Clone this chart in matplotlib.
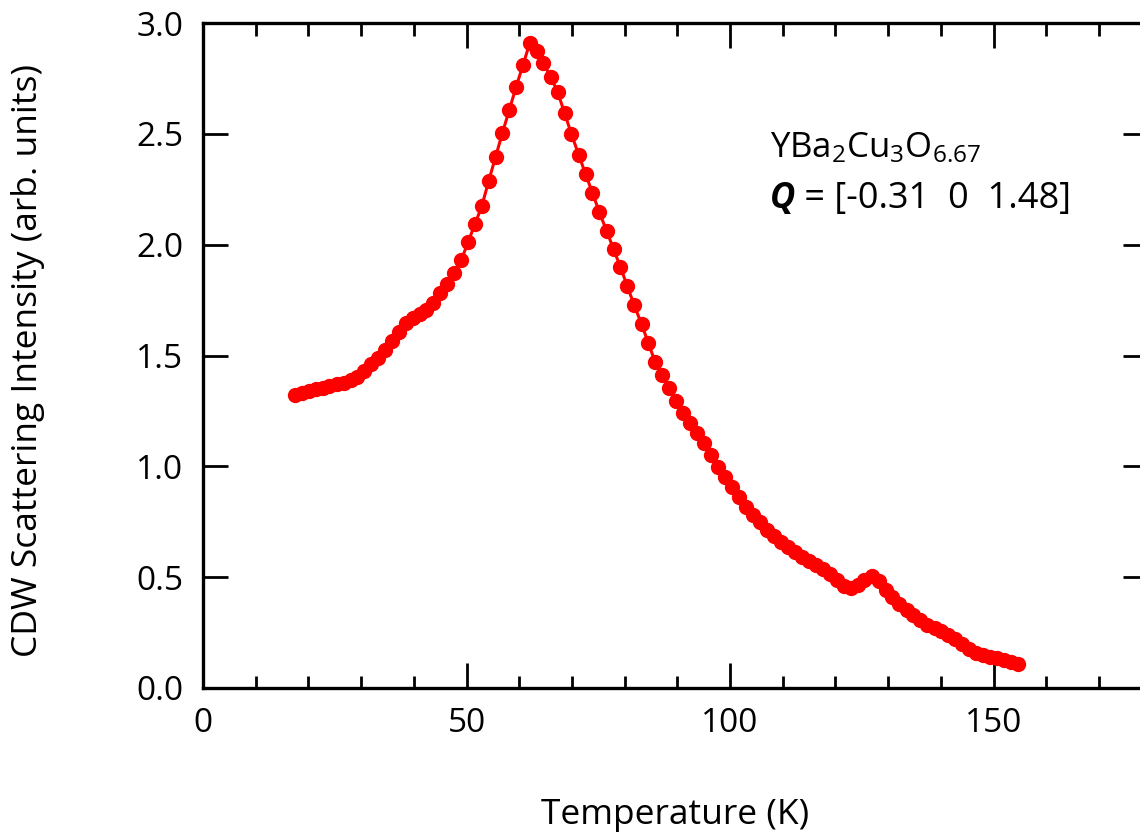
import matplotlib
matplotlib.use("Agg")
import matplotlib.pyplot as plt
from matplotlib.ticker import MultipleLocator

plt.rcParams["font.family"] = ["Open Sans", "DejaVu Sans"]
plt.rcParams["mathtext.fontset"] = "custom"
plt.rcParams["mathtext.rm"] = "Open Sans"
plt.rcParams["mathtext.default"] = "regular"

# temperature (K) and CDW scattering intensity (arb. units)
temperature = [
    17.5, 18.8, 20.1, 21.4, 22.7, 24.0, 25.4, 26.7, 28.0, 29.3,
    30.6, 31.9, 33.2, 34.5, 35.8, 37.2, 38.5, 39.8, 41.1, 42.4,
    43.7, 45.0, 46.3, 47.6, 49.0, 50.3, 51.6, 52.9, 54.2, 55.5,
    56.8, 58.1, 59.4, 60.7, 62.0,
    63.3, 64.6, 66.0, 67.3, 68.6, 69.9, 71.3, 72.6, 73.9, 75.2,
    76.6, 77.9, 79.2, 80.5, 81.8, 83.2, 84.5, 85.8, 87.1, 88.5,
    89.8, 91.1, 92.4, 93.8, 95.1, 96.4, 97.7, 99.1, 100.4, 101.7,
    103.0, 104.4, 105.7, 107.0, 108.3, 109.7, 111.0, 112.3, 113.6, 114.9,
    116.3, 117.6, 118.9, 120.2, 121.6, 122.9, 124.2, 125.5, 126.9, 128.2,
    129.5, 130.8, 132.1, 133.5, 134.8, 136.1, 137.4, 138.8, 140.1, 141.4,
    142.7, 144.1, 145.4, 146.7, 148.0, 149.4, 150.7, 152.0, 153.3, 154.6,
]
intensity = [
    1.322, 1.331, 1.340, 1.349, 1.353, 1.362, 1.371, 1.376, 1.389, 1.403,
    1.430, 1.461, 1.488, 1.525, 1.565, 1.606, 1.646, 1.669, 1.687, 1.705,
    1.737, 1.782, 1.822, 1.872, 1.930, 2.012, 2.093, 2.174, 2.287, 2.395,
    2.503, 2.607, 2.711, 2.810, 2.909,
    2.873, 2.819, 2.756, 2.688, 2.594, 2.499, 2.404, 2.318, 2.233, 2.147,
    2.061, 1.980, 1.899, 1.813, 1.728, 1.642, 1.556, 1.470, 1.412, 1.353,
    1.295, 1.240, 1.195, 1.150, 1.105, 1.051, 0.997, 0.952, 0.907, 0.862,
    0.816, 0.780, 0.749, 0.713, 0.686, 0.659, 0.636, 0.613, 0.591, 0.573,
    0.555, 0.537, 0.514, 0.487, 0.460, 0.451, 0.465, 0.487, 0.507, 0.483,
    0.442, 0.410, 0.379, 0.352, 0.329, 0.307, 0.284, 0.271, 0.257, 0.239,
    0.221, 0.198, 0.176, 0.158, 0.149, 0.140, 0.135, 0.126, 0.117, 0.108,
]

W, H = 1140, 832
fig = plt.figure(figsize=(W / 100, H / 100), dpi=100)
# axes run slightly past the right edge of the figure, as in the original
left, right, bottom, top = 203, 1148, 688, 23
ax = fig.add_axes([left / W, 1 - bottom / H, (right - left) / W, (bottom - top) / H])

ax.plot(temperature, intensity, color="#ff0000", lw=2.2, marker="o", ms=10,
        mec="#ff0000", mfc="#ff0000", clip_on=False)

ax.set_xlim(0, 179.3)
ax.set_ylim(0, 3.0)
ax.xaxis.set_major_locator(MultipleLocator(50))
ax.xaxis.set_minor_locator(MultipleLocator(10))
ax.yaxis.set_major_locator(MultipleLocator(0.5))
ax.yaxis.set_major_formatter(matplotlib.ticker.FormatStrFormatter("%.1f"))

for s in ax.spines.values():
    s.set_linewidth(2.4)
ax.tick_params(which="both", direction="in", top=True, right=True, width=2.0)
ax.tick_params(which="major", length=18, labelsize=24)
ax.tick_params(which="minor", length=9)
ax.tick_params(axis="y", pad=14)
ax.tick_params(axis="x", pad=14)

ax.set_xlabel("Temperature (K)", fontsize=25.5)
ax.set_ylabel("CDW Scattering Intensity (arb. units)", fontsize=25.5)
ax.xaxis.set_label_coords(0.5, -0.166)
ax.xaxis.label.set_va("top")
ax.yaxis.set_label_coords(-0.167, 0.493)

ax.text(0.600, 0.798, r"YBa$_2$Cu$_3$O$_{6.67}$", transform=ax.transAxes,
        fontsize=25, va="baseline", ha="left")
q = ax.text(0.600, 0.722, "Q", transform=ax.transAxes, fontsize=25,
            fontstyle="italic", fontweight="bold", va="baseline", ha="left")
ax.annotate(" = [-0.31  0  1.48]", xy=(1, 0), xycoords=q, fontsize=26,
            va="bottom", ha="left")

fig.savefig("out.png", dpi=100)
